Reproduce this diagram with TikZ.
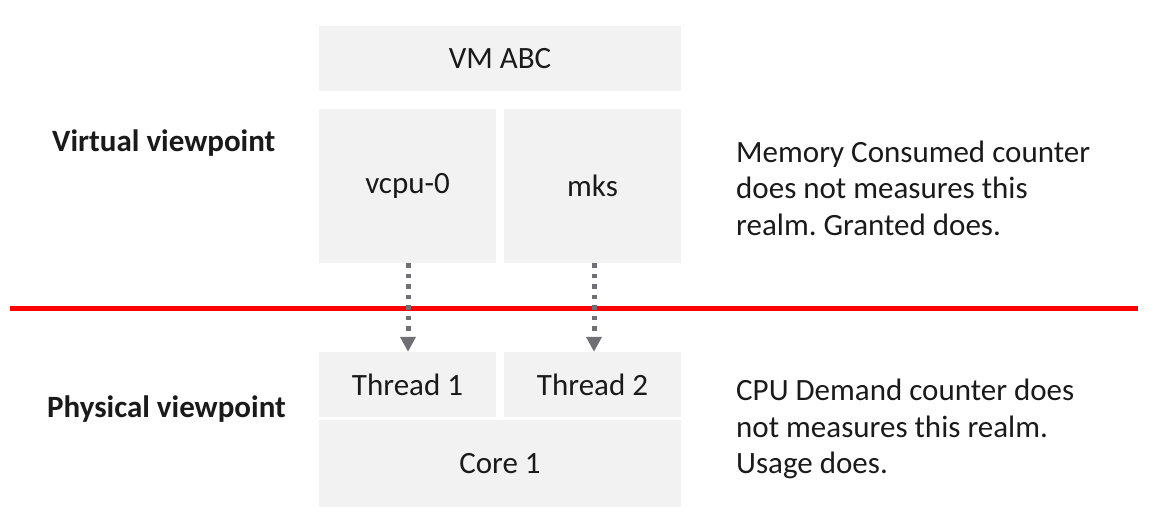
\documentclass[tikz,border=0pt]{standalone}
\usepackage{fontspec}
\setmainfont{Carlito}
\usetikzlibrary{arrows.meta}
\frenchspacing
\definecolor{boxfill}{HTML}{F2F2F2}
\definecolor{arrowgrey}{RGB}{112,112,116}
\definecolor{txt}{HTML}{1A1A1A}
\tikzset{
  box/.style={fill=boxfill, draw=none, inner sep=0pt, text=txt,
    font=\fontsize{31}{37}\selectfont},
  label/.style={anchor=west, inner sep=0pt, text=txt,
    font=\bfseries\fontsize{31}{37}\selectfont},
  note/.style={anchor=west, inner sep=0pt, align=left, text=txt,
    font=\fontsize{31}{36.5}\selectfont},
  maplink/.style={draw=arrowgrey, line width=5pt, dash pattern=on 4.5pt off 6pt,
    -{Triangle[length=15pt,width=15pt]}, arrowgrey},
  divider/.style={draw=red, line width=5pt}
}
\begin{document}
\begin{tikzpicture}[x=1pt,y=-1pt]
\useasboundingbox (0,0) rectangle (1170,517);
% virtual boxes
\node[box, minimum width=362pt, minimum height=65pt] (vm) at (500,58.5) {VM ABC};
\node[box, minimum width=177pt, minimum height=154pt] (vcpu) at (407.5,186) {vcpu-0};
\node[box, minimum width=177pt, minimum height=154pt] (mks) at (592.5,186) {mks};
% physical boxes
\node[box, minimum width=177pt, minimum height=65pt] (t1) at (407.5,384.5) {Thread 1};
\node[box, minimum width=177pt, minimum height=65pt] (t2) at (592.5,384.5) {Thread 2};
\node[box, minimum width=362pt, minimum height=87pt] (core) at (500,463.5) {Core 1};
% labels
\node[label] (virt) at (52,143) {Virtual viewpoint};
\node[label] (phys) at (47,409) {Physical viewpoint};
% notes
\node[note] (n1) at (736,188) {Memory Consumed counter\\does not measures this\\realm. Granted does.};
\node[note] (n2) at (736,429) {CPU Demand counter does\\not measures this realm.\\Usage does.};
% divider
\coordinate (dl) at (10,308);
\coordinate (dr) at (1138,308);
\draw[divider] (dl) -- (dr);
% arrows
\draw[maplink] ([xshift=0.5pt]vcpu.south) -- ([xshift=0.5pt]t1.north);
\draw[maplink] ([xshift=1.5pt]mks.south) -- ([xshift=1.5pt]t2.north);
\end{tikzpicture}
\end{document}
